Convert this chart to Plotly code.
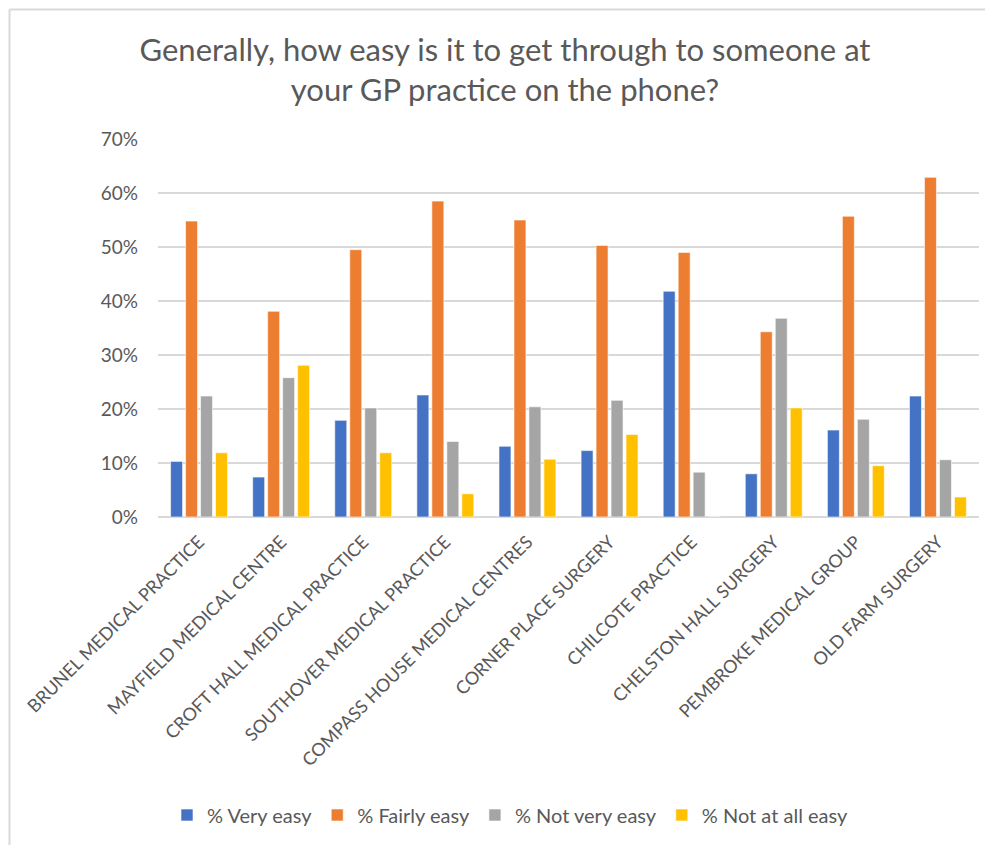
import plotly.graph_objects as go

practices = ["BRUNEL MEDICAL PRACTICE", "MAYFIELD MEDICAL CENTRE", "CROFT HALL MEDICAL PRACTICE",
             "SOUTHOVER MEDICAL PRACTICE", "COMPASS HOUSE MEDICAL CENTRES", "CORNER PLACE SURGERY",
             "CHILCOTE PRACTICE", "CHELSTON HALL SURGERY", "PEMBROKE MEDICAL GROUP", "OLD FARM SURGERY"]
very_easy = [0.103, 0.074, 0.179, 0.226, 0.131, 0.123, 0.418, 0.080, 0.161, 0.224]
fairly_easy = [0.548, 0.381, 0.495, 0.585, 0.550, 0.503, 0.490, 0.343, 0.557, 0.629]
not_very_easy = [0.224, 0.258, 0.202, 0.140, 0.204, 0.216, 0.083, 0.368, 0.181, 0.106]
not_at_all_easy = [0.119, 0.281, 0.119, 0.043, 0.107, 0.153, 0.0, 0.202, 0.095, 0.037]

series = [("% Very easy", very_easy, "#4472C4"),
          ("% Fairly easy", fairly_easy, "#ED7D31"),
          ("% Not very easy", not_very_easy, "#A5A5A5"),
          ("% Not at all easy", not_at_all_easy, "#FFC000")]

OFF = 8  # default page body margin
W, H = 993 - OFF, 845 - OFF
# target plot area in window pixels: x 158..979, y 139..517
L, T = 158 - OFF, 139 - OFF
pw, ph = 821, 378
R = W - L - pw
B = H - T - ph

fig = go.Figure()
for name, vals, col in series:
    fig.add_trace(go.Bar(x=practices, y=vals, name=name, marker_color=col,
                         marker_line_color="white", marker_line_width=0.6))

FONT = "Lato, Open Sans, sans-serif"

def px_x(x):  # window px -> paper
    return (x - OFF - L) / pw

def px_y(y):
    return (T + ph - (y - OFF)) / ph

fig.update_layout(
    width=W, height=H,
    margin=dict(l=L, r=R, t=T, b=B, autoexpand=False),
    paper_bgcolor="white", plot_bgcolor="white",
    barmode="group", bargap=0.27, bargroupgap=0.2,
    font=dict(family=FONT, color="#595959"),
    title=dict(text="Generally, how easy is it to get through to someone at<br>your GP practice on the phone?",
               x=(505 - OFF) / W, xref="container", xanchor="center",
               y=1 - (61 - OFF) / H, yref="container", yanchor="top",
               font=dict(size=31, color="#595959", family=FONT)),
    legend=dict(orientation="h", x=(510 - OFF) / W, xanchor="center", xref="container",
                y=px_y(815), yanchor="middle", font=dict(size=20, color="#595959"),
                traceorder="normal"),
    showlegend=True,
)
fig.update_xaxes(showgrid=False, showline=False, ticks="", tickangle=-45, ticklabelstandoff=10,
                 tickfont=dict(size=18, color="#595959"), automargin=False)
fig.update_yaxes(range=[0, 0.7], dtick=0.1, tickformat=".0%", showgrid=True,
                 gridcolor="#D9D9D9", gridwidth=1.5, zeroline=True, zerolinecolor="#D9D9D9",
                 zerolinewidth=1.5, ticks="", ticklabelstandoff=19,
                 tickfont=dict(size=19, color="#595959"), automargin=False)

# chart border (left & top visible)
fig.add_shape(type="line", xref="paper", yref="paper", x0=px_x(9.5), x1=px_x(9.5), y0=px_y(9.5), y1=px_y(860),
              line=dict(color="#D9D9D9", width=2))
fig.add_shape(type="line", xref="paper", yref="paper", x0=px_x(9.5), x1=px_x(1010), y0=px_y(9.5), y1=px_y(9.5),
              line=dict(color="#D9D9D9", width=2))

fig.write_html("out.html")
